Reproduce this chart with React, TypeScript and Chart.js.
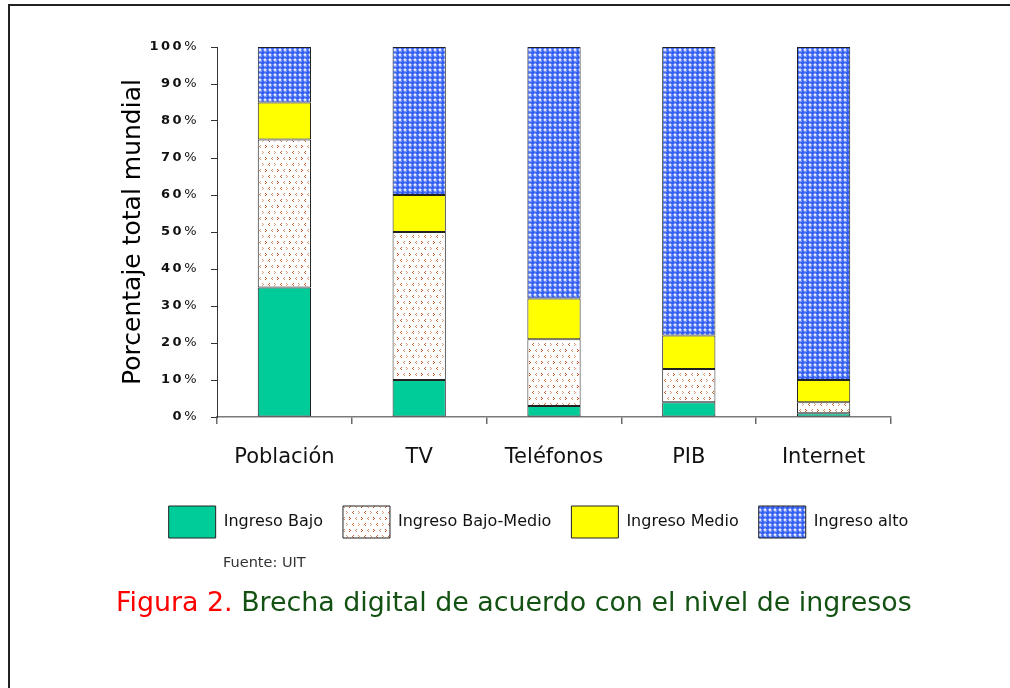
import React, { useEffect, useRef } from "react";
import { Chart, registerables } from "chart.js";

Chart.register(...registerables);

const categories = ["Población", "TV", "Teléfonos", "PIB", "Internet"];
const ingresoBajo = [35, 10, 3, 4, 1];
const ingresoBajoMedio = [40, 40, 18, 9, 3];
const ingresoMedio = [10, 10, 11, 9, 6];
const ingresoAlto = [15, 40, 68, 78, 90];
const seriesNames = ["Ingreso Bajo", "Ingreso Bajo-Medio", "Ingreso Medio", "Ingreso alto"];
const yTitle = "Porcentaje total mundial";
const sourceText = "Fuente: UIT";
const captionLead = "Figura 2.";
const captionRest = " Brecha digital de acuerdo con el nivel de ingresos";

const FONT = '"DejaVu Sans", Verdana, sans-serif';

function makeBajoMedioPattern(ctx: CanvasRenderingContext2D): CanvasPattern | string {
  const c = document.createElement("canvas");
  c.width = 12;
  c.height = 12;
  const g = c.getContext("2d")!;
  g.fillStyle = "#ffffff";
  g.fillRect(0, 0, 12, 12);
  const px = (x: number, y: number, col: string) => {
    g.fillStyle = col;
    g.fillRect(x, y, 1, 1);
  };
  const right = (x: number, y: number, col: string) => {
    px(x, y, col);
    px(x + 1, y + 1, col);
    px(x, y + 2, col);
  };
  const left = (x: number, y: number, col: string) => {
    px(x + 1, y, col);
    px(x, y + 1, col);
    px(x + 1, y + 2, col);
  };
  right(1, 1, "#bb4c1a");
  left(7, 1, "#d6946e");
  left(4, 7, "#c4622f");
  right(10, 7, "#dc9e7c");
  return ctx.createPattern(c, "repeat") || "#f0d0c0";
}

function makeAltoPattern(ctx: CanvasRenderingContext2D): CanvasPattern | string {
  const c = document.createElement("canvas");
  c.width = 5;
  c.height = 5;
  const g = c.getContext("2d")!;
  g.fillStyle = "#ffffff";
  g.fillRect(0, 0, 5, 5);
  g.fillStyle = "#335ff2";
  g.beginPath();
  g.arc(2.5, 2.5, 2.45, 0, Math.PI * 2);
  g.fill();
  g.fillStyle = "#86a2ff";
  g.fillRect(1, 1, 1, 1);
  return ctx.createPattern(c, "repeat") || "#3a63f0";
}

const yLabelPlugin = {
  id: "yLabelPlugin",
  afterDraw(chart: any) {
    const ctx: CanvasRenderingContext2D = chart.ctx;
    const ys = chart.scales.y;
    const area = chart.chartArea;
    ctx.save();
    ctx.textBaseline = "middle";
    ctx.textAlign = "left";
    ctx.fillStyle = "#111111";
    (ctx as any).letterSpacing = "2.5px";
    const rightX = area.left - 18;
    ys.ticks.forEach((t: any) => {
      const py = ys.getPixelForValue(t.value);
      const num = String(t.value);
      ctx.font = `bold 13px ${FONT}`;
      const nw = ctx.measureText(num).width;
      ctx.font = `13px ${FONT}`;
      const pw = ctx.measureText("%").width;
      const x0 = rightX - nw - pw;
      ctx.font = `bold 13px ${FONT}`;
      ctx.fillText(num, x0, py);
      ctx.font = `13px ${FONT}`;
      ctx.fillText("%", x0 + nw, py);
    });
    (ctx as any).letterSpacing = "0px";
    ctx.translate(area.left - 84, (area.top + area.bottom) / 2);
    ctx.rotate(-Math.PI / 2);
    ctx.textAlign = "center";
    ctx.font = `25px ${FONT}`;
    ctx.fillStyle = "#000000";
    ctx.fillText(yTitle, 0, 0);
    ctx.restore();
  },
};

function BarChart() {
  const ref = useRef<HTMLCanvasElement | null>(null);
  useEffect(() => {
    const canvas = ref.current!;
    const ctx = canvas.getContext("2d")!;
    const bmPattern = makeBajoMedioPattern(ctx);
    const altoPattern = makeAltoPattern(ctx);
    const common = { borderColor: "#222222", borderWidth: 1, borderSkipped: false as const };
    const chart = new Chart(ctx, {
      type: "bar",
      data: {
        labels: categories,
        datasets: [
          { label: seriesNames[0], data: ingresoBajo, backgroundColor: "#00cc99", ...common },
          { label: seriesNames[1], data: ingresoBajoMedio, backgroundColor: bmPattern as any, ...common },
          { label: seriesNames[2], data: ingresoMedio, backgroundColor: "#ffff00", ...common },
          { label: seriesNames[3], data: ingresoAlto, backgroundColor: altoPattern as any, ...common },
        ],
      },
      options: {
        responsive: false,
        animation: false,
        events: [],
        layout: { padding: { top: 47, left: 67, right: 0, bottom: 140 } },
        datasets: { bar: { barPercentage: 0.395, categoryPercentage: 1 } },
        plugins: {
          tooltip: { enabled: false },
          title: { display: false },
          legend: {
            display: true,
            position: "bottom",
            align: "center",
            labels: {
              boxWidth: 47,
              boxHeight: 32,
              padding: 20,
              color: "#111111",
              font: { family: FONT, size: 16 },
            },
          },
        },
        scales: {
          x: {
            stacked: true,
            offset: true,
            grid: {
              display: true,
              offset: true,
              drawOnChartArea: false,
              drawTicks: true,
              tickLength: 7,
              color: "#6a6a6a",
              lineWidth: 1.5,
            },
            border: { display: true, color: "#7a7a7a", width: 1.5 },
            ticks: {
              color: "#111111",
              font: { family: FONT, size: 21 },
              padding: 21,
              maxRotation: 0,
            },
            afterFit: (s: any) => {
              s.height = 69;
            },
          },
          y: {
            stacked: true,
            min: 0,
            max: 100,
            grid: {
              display: true,
              drawOnChartArea: false,
              drawTicks: true,
              tickLength: 6,
              color: "#333333",
            },
            border: { display: true, color: "#333333", width: 1 },
            ticks: { display: false, stepSize: 10 },
            afterFit: (s: any) => {
              s.width = 150;
            },
          },
          yRight: {
            type: "linear",
            position: "right",
            display: true,
            min: 0,
            max: 100,
            grid: { display: false, drawTicks: false },
            border: { display: false },
            ticks: { display: false },
            afterFit: (s: any) => {
              s.width = 119;
            },
          },
        },
      },
      plugins: [yLabelPlugin],
    });
    return () => chart.destroy();
  }, []);
  return (
    <canvas
      ref={ref}
      width={1010}
      height={688}
      style={{ position: "absolute", left: 0, top: 0, width: 1010, height: 688 }}
    />
  );
}

export default function App() {
  return (
    <div
      style={{
        position: "fixed",
        left: 0,
        top: 0,
        width: 1010,
        height: 688,
        background: "#ffffff",
        overflow: "hidden",
      }}
    >
      <div
        style={{
          position: "absolute",
          left: 8,
          top: 4,
          width: 1100,
          height: 800,
          borderTop: "2px solid #222",
          borderLeft: "2px solid #222",
          boxSizing: "border-box",
        }}
      />
      <BarChart />
      <div
        style={{
          position: "absolute",
          left: 223,
          top: 553,
          fontFamily: FONT,
          fontSize: 14.5,
          lineHeight: "18px",
          color: "#333333",
          whiteSpace: "nowrap",
        }}
      >
        {sourceText}
      </div>
      <div
        style={{
          position: "absolute",
          left: 116,
          top: 585,
          fontFamily: FONT,
          fontSize: 26.85,
          lineHeight: "34px",
          whiteSpace: "nowrap",
        }}
      >
        <span style={{ color: "#ff0000" }}>{captionLead}</span>
        <span style={{ color: "#145214" }}>{captionRest}</span>
      </div>
    </div>
  );
}
